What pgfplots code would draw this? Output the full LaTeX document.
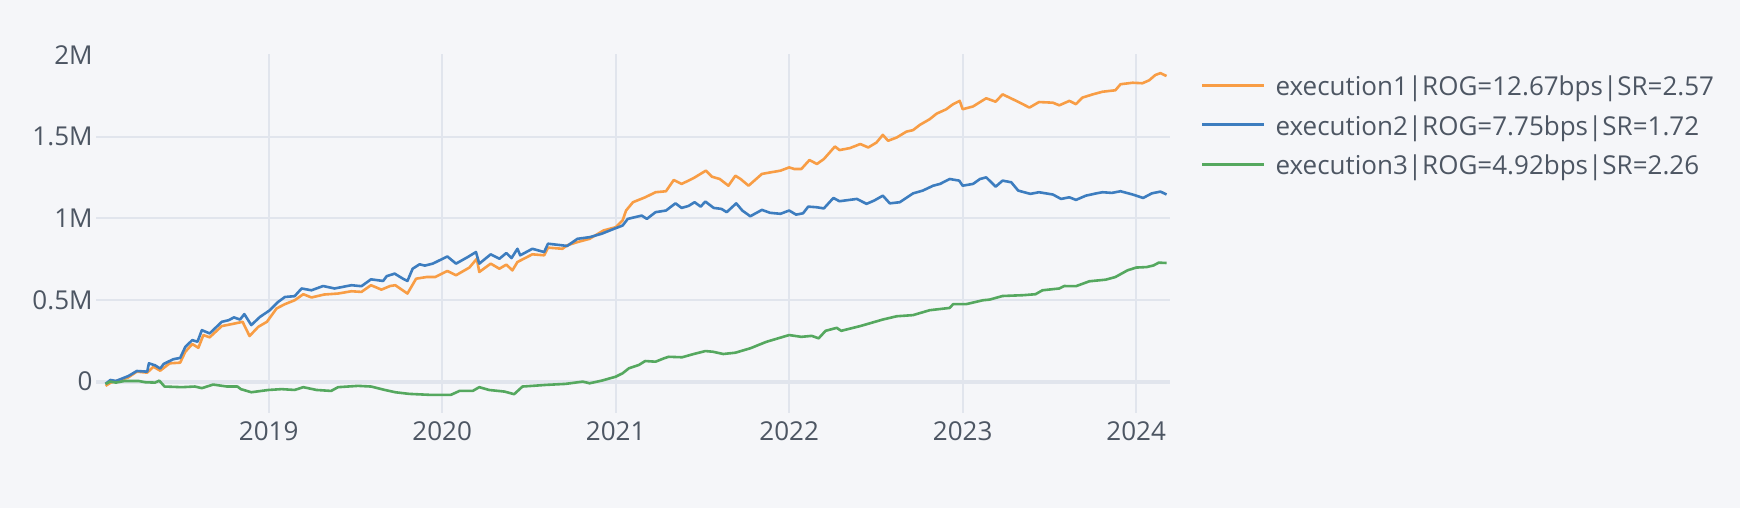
\documentclass[border=0pt]{standalone}
\usepackage{pgfplots}
\pgfplotsset{compat=1.18}
\usepackage{fontspec}
\setmainfont{Open Sans}
\definecolor{bgc}{HTML}{F5F6F9}
\definecolor{gridc}{HTML}{E1E5ED}
\definecolor{txtc}{HTML}{4D5663}
\definecolor{c1}{HTML}{F89D45}
\definecolor{c2}{HTML}{3D7DBF}
\definecolor{c3}{HTML}{55A85F}
\begin{document}
\begin{tikzpicture}
\path[use as bounding box, fill=bgc] (0,0) rectangle (870pt,254pt);
\begin{axis}[
  at={(48pt,47.5pt)}, anchor=south west,
  scale only axis, width=537pt, height=179.5pt,
  xmin=2018.005, xmax=2024.195, ymin=-0.192, ymax=2.005,
  axis line style={draw=none}, tick style={draw=none},
  xtick={2019,2020,2021,2022,2023,2024},
  xticklabels={2019,2020,2021,2022,2023,2024},
  ytick={0,0.5,1,1.5},
  yticklabels={0,0.5M,1M,1.5M},
  extra y ticks={2}, extra y tick labels={2M},
  extra y tick style={grid=none},
  scaled y ticks=false,
  grid=major,
  major grid style={draw=gridc, line width=1pt},
  /pgf/number format/assume math mode=true,
  ticklabel style={font=\fontsize{13}{15}\selectfont, text=txtc, inner sep=0pt},
  xticklabel style={anchor=north, yshift=-4.3pt},
  yticklabel style={anchor=east, xshift=-1.5pt},
  legend style={at={(1.0284,0.803)}, anchor=west, draw=none, fill=none,
    inner sep=0pt, row sep=9.25pt, column sep=5pt,
    font=\fontsize{13}{15}\selectfont, text=txtc,
    nodes={inner sep=0pt, text height=10.5pt, text depth=0pt}},
  legend cell align=left,
  legend image code/.code={\draw[#1] (0pt,0pt) -- (31pt,0pt);},
  every axis plot/.append style={line width=1.3pt, line join=round, mark=none},
]
\draw[gridc, line width=2pt] (axis cs:2018.005,0) -- (axis cs:2024.195,0);
\addplot[c1] coordinates {
(2018.06,-0.026) (2018.09,-0.006) (2018.19,0.025) (2018.24,0.061) (2018.30,0.055)
(2018.336,0.091) (2018.375,0.067) (2018.43,0.112) (2018.49,0.116) (2018.52,0.183)
(2018.56,0.23) (2018.595,0.207) (2018.624,0.285) (2018.66,0.271) (2018.73,0.34)
(2018.806,0.356) (2018.85,0.366) (2018.89,0.279) (2018.94,0.335) (2018.99,0.366)
(2019.046,0.448) (2019.094,0.474) (2019.15,0.498) (2019.2,0.535) (2019.247,0.515)
(2019.32,0.533) (2019.40,0.539) (2019.477,0.553) (2019.535,0.549) (2019.59,0.59)
(2019.65,0.563) (2019.70,0.585) (2019.73,0.59) (2019.80,0.539) (2019.85,0.63)
(2019.91,0.64) (2019.96,0.64) (2020.03,0.677) (2020.08,0.651) (2020.157,0.698)
(2020.20,0.752) (2020.214,0.671) (2020.28,0.722) (2020.33,0.691) (2020.37,0.716)
(2020.405,0.681) (2020.434,0.732) (2020.52,0.779) (2020.588,0.773) (2020.61,0.82)
(2020.693,0.813) (2020.72,0.834) (2020.78,0.854) (2020.85,0.874) (2020.93,0.925)
(2021.0,0.945) (2021.04,0.986) (2021.06,1.047) (2021.10,1.098) (2021.17,1.128)
(2021.23,1.159) (2021.29,1.165) (2021.335,1.234) (2021.38,1.21) (2021.42,1.23)
(2021.45,1.246) (2021.52,1.291) (2021.555,1.254) (2021.60,1.24) (2021.65,1.199)
(2021.69,1.26) (2021.72,1.24) (2021.766,1.199) (2021.843,1.271) (2021.89,1.28)
(2021.95,1.291) (2022.0,1.311) (2022.03,1.301) (2022.07,1.301) (2022.117,1.356)
(2022.16,1.332) (2022.2,1.362) (2022.264,1.439) (2022.29,1.417) (2022.35,1.429)
(2022.41,1.454) (2022.456,1.433) (2022.503,1.463) (2022.54,1.51) (2022.57,1.474)
(2022.62,1.494) (2022.676,1.53) (2022.714,1.539) (2022.753,1.571) (2022.81,1.606)
(2022.85,1.64) (2022.906,1.667) (2022.945,1.698) (2022.983,1.718) (2023.0,1.667)
(2023.06,1.684) (2023.117,1.722) (2023.136,1.734) (2023.19,1.713) (2023.23,1.758)
(2023.27,1.738) (2023.33,1.707) (2023.385,1.677) (2023.44,1.711) (2023.52,1.707)
(2023.557,1.691) (2023.615,1.718) (2023.653,1.698) (2023.69,1.738) (2023.75,1.758)
(2023.806,1.774) (2023.88,1.783) (2023.91,1.82) (2023.98,1.829) (2024.036,1.826)
(2024.075,1.844) (2024.11,1.876) (2024.14,1.888) (2024.175,1.87)
};
\addlegendentry{execution1|ROG=12.67bps|SR=2.57}
\addplot[c2] coordinates {
(2018.06,-0.014) (2018.088,0.01) (2018.12,0.004) (2018.193,0.035) (2018.24,0.065)
(2018.30,0.061) (2018.31,0.112) (2018.345,0.10) (2018.375,0.08) (2018.395,0.108)
(2018.45,0.137) (2018.49,0.145) (2018.52,0.213) (2018.56,0.254) (2018.59,0.244)
(2018.615,0.315) (2018.66,0.295) (2018.73,0.366) (2018.77,0.376) (2018.80,0.393)
(2018.835,0.38) (2018.86,0.413) (2018.90,0.346) (2018.95,0.396) (2019.007,0.437)
(2019.055,0.488) (2019.094,0.518) (2019.15,0.523) (2019.19,0.57) (2019.247,0.559)
(2019.314,0.585) (2019.38,0.57) (2019.477,0.59) (2019.535,0.584) (2019.59,0.626)
(2019.66,0.616) (2019.68,0.645) (2019.726,0.661) (2019.774,0.63) (2019.80,0.616)
(2019.83,0.691) (2019.87,0.718) (2019.90,0.71) (2019.946,0.722) (2020.03,0.766)
(2020.08,0.722) (2020.147,0.762) (2020.195,0.793) (2020.214,0.722) (2020.28,0.779)
(2020.33,0.752) (2020.37,0.787) (2020.40,0.756) (2020.434,0.813) (2020.45,0.773)
(2020.52,0.813) (2020.588,0.793) (2020.61,0.844) (2020.693,0.834) (2020.72,0.83)
(2020.78,0.874) (2020.85,0.884) (2020.92,0.905) (2021.0,0.939) (2021.04,0.955)
(2021.07,0.996) (2021.15,1.016) (2021.18,0.996) (2021.23,1.037) (2021.29,1.047)
(2021.345,1.091) (2021.38,1.063) (2021.42,1.075) (2021.455,1.098) (2021.49,1.071)
(2021.517,1.102) (2021.565,1.063) (2021.61,1.057) (2021.64,1.037) (2021.695,1.091)
(2021.73,1.047) (2021.776,1.012) (2021.843,1.051) (2021.89,1.033) (2021.95,1.027)
(2022.0,1.047) (2022.04,1.022) (2022.08,1.03) (2022.11,1.071) (2022.16,1.067)
(2022.2,1.06) (2022.255,1.124) (2022.29,1.104) (2022.39,1.118) (2022.446,1.088)
(2022.49,1.108) (2022.54,1.138) (2022.58,1.091) (2022.638,1.098) (2022.714,1.152)
(2022.77,1.169) (2022.83,1.199) (2022.87,1.21) (2022.925,1.24) (2022.98,1.23)
(2023.0,1.199) (2023.06,1.21) (2023.10,1.24) (2023.136,1.25) (2023.19,1.193)
(2023.23,1.23) (2023.28,1.22) (2023.32,1.169) (2023.39,1.149) (2023.44,1.159)
(2023.52,1.145) (2023.567,1.118) (2023.615,1.128) (2023.653,1.112) (2023.71,1.138)
(2023.77,1.152) (2023.806,1.159) (2023.86,1.155) (2023.91,1.165) (2023.98,1.145)
(2024.04,1.124) (2024.09,1.152) (2024.14,1.163) (2024.175,1.145)
};
\addlegendentry{execution2|ROG=7.75bps|SR=1.72}
\addplot[c3] coordinates {
(2018.06,-0.014) (2018.088,0) (2018.12,-0.006) (2018.17,0.004) (2018.25,0.004)
(2018.29,-0.004) (2018.345,-0.006) (2018.37,0.006) (2018.40,-0.03) (2018.50,-0.034)
(2018.575,-0.03) (2018.615,-0.04) (2018.68,-0.018) (2018.76,-0.03) (2018.82,-0.03)
(2018.84,-0.046) (2018.90,-0.065) (2019.0,-0.051) (2019.075,-0.046) (2019.15,-0.051)
(2019.2,-0.034) (2019.276,-0.051) (2019.36,-0.057) (2019.40,-0.034) (2019.515,-0.026)
(2019.59,-0.03) (2019.67,-0.051) (2019.73,-0.065) (2019.81,-0.075) (2019.93,-0.081)
(2020.05,-0.081) (2020.10,-0.057) (2020.176,-0.057) (2020.214,-0.034) (2020.27,-0.051)
(2020.36,-0.061) (2020.415,-0.077) (2020.463,-0.03) (2020.52,-0.026) (2020.60,-0.02)
(2020.71,-0.014) (2020.81,0) (2020.85,-0.01) (2020.92,0.006) (2021.0,0.03)
(2021.04,0.051) (2021.077,0.082) (2021.134,0.102) (2021.17,0.126) (2021.23,0.122)
(2021.28,0.143) (2021.306,0.152) (2021.383,0.149) (2021.45,0.169) (2021.517,0.187)
(2021.56,0.183) (2021.62,0.169) (2021.69,0.177) (2021.776,0.204) (2021.87,0.244)
(2022.0,0.285) (2022.07,0.274) (2022.13,0.28) (2022.17,0.265) (2022.21,0.311)
(2022.274,0.329) (2022.30,0.311) (2022.41,0.34) (2022.54,0.38) (2022.62,0.40)
(2022.714,0.407) (2022.81,0.437) (2022.925,0.451) (2022.945,0.474) (2023.02,0.474)
(2023.117,0.498) (2023.156,0.502) (2023.23,0.524) (2023.35,0.529) (2023.42,0.535)
(2023.46,0.559) (2023.557,0.57) (2023.585,0.585) (2023.653,0.584) (2023.73,0.614)
(2023.825,0.624) (2023.88,0.64) (2023.95,0.681) (2024.0,0.698) (2024.06,0.701)
(2024.1,0.711) (2024.13,0.728) (2024.175,0.726)
};
\addlegendentry{execution3|ROG=4.92bps|SR=2.26}
\end{axis}
\end{tikzpicture}
\end{document}
